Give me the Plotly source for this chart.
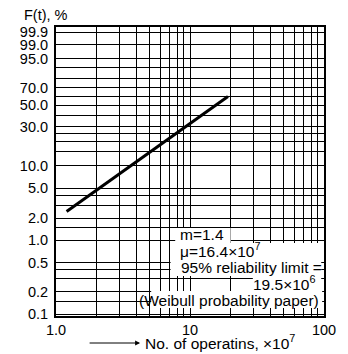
import numpy as np
import plotly.graph_objects as go

# ---- data ----
x_line = [1.2, 19.2]            # No. of operations, x10^7
F_line = [2.45, 60.0]           # F(t), %

grid_F = [0.1, 0.15, 0.2, 0.3, 0.4, 0.5, 1.0, 1.5, 2.0, 3.0, 4.0, 5.0, 10.0, 15.0,
          20.0, 25.0, 30.0, 40.0, 50.0, 60.0, 70.0, 80.0, 90.0, 95.0, 99.0, 99.9]
label_F = [0.1, 0.2, 0.5, 1.0, 2.0, 5.0, 10.0, 30.0, 50.0, 70.0, 95.0, 99.0, 99.9]
label_F_text = ["0.1", "0.2", "0.5", "1.0", "2.0", "5.0", "10.0", "30.0", "50.0",
                "70.0", "95.0", "99.0", "99.9"]
grid_x = [1, 2, 3, 4, 5, 6, 7, 8, 9, 10, 20, 30, 40, 50, 60, 70, 80, 90, 100]
label_x = {1: "1.0", 10: "10", 100: "100"}


def weib(F):
    F = np.asarray(F, dtype=float) / 100.0
    return np.log(-np.log(1.0 - F))


O = 8  # page body offset
W, H = 348 - O, 354 - O
L, T = 44 - O, 27 - O
R = W - (334 - O)
B = H - (316 - O)
PW, PH = W - L - R, H - T - B


def px(x):  # reference-screen x -> paper
    return (x - O - L) / PW


def py(y):  # reference-screen y -> paper
    return (H - B - (y - O)) / PH


ytv = list(weib(grid_F))
ytt = [label_F_text[label_F.index(f)] if f in label_F else "" for f in grid_F]

FONT = "Liberation Sans, Arial, sans-serif"

fig = go.Figure()
fig.add_trace(go.Scatter(x=x_line, y=weib(F_line), mode="lines",
                         line=dict(color="black", width=3), showlegend=False))

fig.update_xaxes(type="log", range=[0, 2], tickvals=grid_x,
                 ticktext=[label_x.get(v, "") for v in grid_x],
                 showgrid=True, gridcolor="black", gridwidth=1,
                 showline=True, mirror=True, linecolor="black", linewidth=2,
                 ticks="", zeroline=False,
                 tickfont=dict(family=FONT, size=14.5, color="black"))
fig.update_yaxes(range=[-6.97, 2.09], tickvals=ytv, ticktext=ytt,
                 showgrid=True, gridcolor="black", gridwidth=1,
                 showline=True, mirror=True, linecolor="black", linewidth=2,
                 ticks="", zeroline=False, ticklabelstandoff=3,
                 tickfont=dict(family=FONT, size=14.5, color="black"))

# white boxes behind the text block
boxes = [(173, 228, 233, 243), (168, 243, 331, 276), (257, 276, 331, 291), (147, 291, 332, 308)]
shapes = []
for x0, y0, x1, y1 in boxes:
    shapes.append(dict(type="rect", xref="paper", yref="paper",
                       x0=px(x0), x1=px(x1), y0=py(y1), y1=py(y0),
                       fillcolor="white", line=dict(width=0), layer="above"))

af = dict(family=FONT, size=15.5, color="black")
ann = [
    dict(text="m=1.4", x=px(176), y=py(235), xanchor="left"),
    dict(text="μ=16.4×10<sup>7</sup>", x=px(176), y=py(249.5), xanchor="left"),
    dict(text="95% reliability limit =", x=px(177), y=py(267), xanchor="left"),
    dict(text="19.5×10<sup>6</sup>", x=px(328), y=py(283), xanchor="right"),
    dict(text="(Weibull probability paper)", x=px(331), y=py(300), xanchor="right"),
    dict(text="F(t), %", x=px(7), y=py(15), xanchor="left", font=dict(family=FONT, size=14.5, color="black")),
    dict(text="No. of operatins, ×10<sup>7</sup>", x=px(138), y=py(341.5), xanchor="left",
         font=dict(family=FONT, size=15.5, color="black")),
]
annotations = []
for a in ann:
    a.setdefault("font", af)
    a.update(xref="paper", yref="paper", yanchor="middle", showarrow=False)
    annotations.append(a)
annotations.append(dict(text="", xref="paper", yref="paper", x=px(135), y=py(343),
                        ax=-52, ay=0, showarrow=True, arrowhead=2, arrowsize=1,
                        arrowwidth=1, arrowcolor="black"))

fig.update_layout(width=W, height=H, margin=dict(l=L, r=R, t=T, b=B),
                  paper_bgcolor="white", plot_bgcolor="white",
                  shapes=shapes, annotations=annotations, showlegend=False)

fig.write_html("out.html")
